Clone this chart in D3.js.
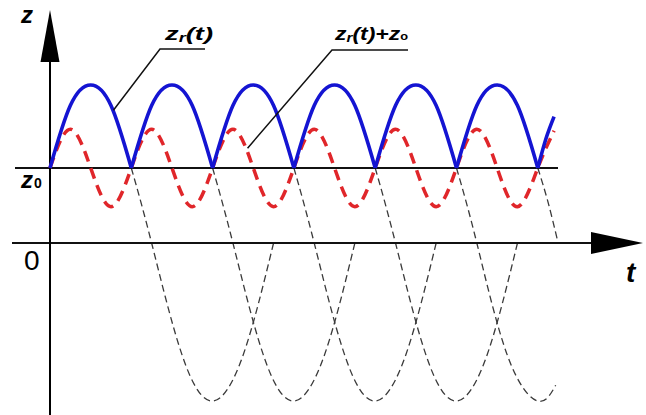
<!DOCTYPE html>
<html>
<head>
<meta charset="utf-8">
<script src="https://cdn.jsdelivr.net/npm/d3@7/dist/d3.min.js"></script>
<style>
  html, body { margin: 0; padding: 0; background: #fff; }
  svg text { font-family: "Liberation Sans", Arial, sans-serif; }
</style>
</head>
<body>
<svg id="chart" width="646" height="415"></svg>
<script>
// level of z0 (in units of the z_r amplitude)
var z0 = 0.475;

// blue z_r(t): the part of each wave above z0, one arch per period
var blueArches = [
  [[0, 0.475], [0.25, 0.87], [0.5, 1], [0.75, 0.87], [1, 0.475]],
  [[1, 0.475], [1.25, 0.87], [1.5, 1], [1.75, 0.87], [2, 0.475]],
  [[2, 0.475], [2.25, 0.87], [2.5, 1], [2.75, 0.87], [3, 0.475]],
  [[3, 0.475], [3.25, 0.87], [3.5, 1], [3.75, 0.87], [4, 0.475]],
  [[4, 0.475], [4.25, 0.87], [4.5, 1], [4.75, 0.87], [5, 0.475]],
  [[5, 0.475], [5.25, 0.87], [5.5, 1], [5.75, 0.87], [6, 0.475]],
  [[6, 0.475], [6.1, 0.66], [6.2, 0.8]]
];

// red dashed z_r(t)+z0
var redT = [0, 0.25, 0.5, 0.75, 1, 1.25, 1.5, 1.75, 2, 2.25, 2.5, 2.75, 3,
            3.25, 3.5, 3.75, 4, 4.25, 4.5, 4.75, 5, 5.25, 5.5, 5.75, 6, 6.2];
var redZ = [0.475, 0.72, 0.475, 0.23, 0.475, 0.72, 0.475, 0.23, 0.475, 0.72, 0.475, 0.23, 0.475,
            0.72, 0.475, 0.23, 0.475, 0.72, 0.475, 0.23, 0.475, 0.72, 0.475, 0.23, 0.475, 0.71];

// thin black dashed continuation of each wave below z0
var dashArcs = [
  [[1, 0.475], [1.25, 0], [1.625, -0.71], [2, -1], [2.375, -0.71], [2.75, 0]],
  [[2, 0.475], [2.25, 0], [2.625, -0.71], [3, -1], [3.375, -0.71], [3.75, 0]],
  [[3, 0.475], [3.25, 0], [3.625, -0.71], [4, -1], [4.375, -0.71], [4.75, 0]],
  [[4, 0.475], [4.25, 0], [4.625, -0.71], [5, -1], [5.375, -0.71], [5.75, 0]],
  [[5, 0.475], [5.25, 0], [5.625, -0.71], [6, -1], [6.22, -0.9]],
  [[6, 0.475], [6.125, 0.26], [6.25, 0]]
];

var svg = d3.select("#chart");

var x = d3.scaleLinear().domain([0, 7]).range([50, 619.1]);
var y = d3.scaleLinear().domain([-1, 1]).range([401, 85]);

var curve = d3.line()
        .x(d => x(d[0]))
        .y(d => y(d[1]))
        .curve(d3.curveNatural);

// black dashed arcs
svg.append("g").selectAll("path")
    .data(dashArcs)
    .enter()
    .append("path")
    .attr("d", curve)
    .attr("fill", "none")
    .attr("stroke", "#3a3a3a")
    .attr("stroke-width", 1.3)
    .attr("stroke-dasharray", "7,4");

// axes
svg.append("line")
    .attr("x1", 12).attr("x2", 595)
    .attr("y1", y(0)).attr("y2", y(0))
    .attr("stroke", "#111").attr("stroke-width", 2);
svg.append("path")
    .attr("d", "M643," + y(0) + "L591," + (y(0) - 11) + "L591," + (y(0) + 11) + "Z")
    .attr("fill", "#000");

svg.append("line")
    .attr("x1", 15).attr("x2", 558)
    .attr("y1", y(z0)).attr("y2", y(z0))
    .attr("stroke", "#111").attr("stroke-width", 2);

svg.append("line")
    .attr("x1", x(0)).attr("x2", x(0))
    .attr("y1", 60).attr("y2", 415)
    .attr("stroke", "#000").attr("stroke-width", 2);
svg.append("path")
    .attr("d", "M" + x(0) + ",10L" + (x(0) - 9.5) + ",62L" + (x(0) + 9.5) + ",62Z")
    .attr("fill", "#000");

// red dashed
var redData = redT.map((t, i) => [t, redZ[i]]);
svg.append("path")
    .datum(redData)
    .attr("d", curve)
    .attr("fill", "none")
    .attr("stroke", "#e0262a")
    .attr("stroke-width", 3.5)
    .attr("stroke-dasharray", "11,7");

// blue arches
svg.append("g").selectAll("path")
    .data(blueArches)
    .enter()
    .append("path")
    .attr("d", curve)
    .attr("fill", "none")
    .attr("stroke", "#1414d2")
    .attr("stroke-width", 3.6)
    .attr("stroke-linejoin", "round");

// leader lines
svg.append("polyline")
    .attr("points", [[205, 49], [160, 49], [x(0.78), y(0.84)]].join(" "))
    .attr("fill", "none").attr("stroke", "#111").attr("stroke-width", 1.5);
svg.append("polyline")
    .attr("points", [[408, 50], [332, 50], [x(2.43), y(0.6)]].join(" "))
    .attr("fill", "none").attr("stroke", "#111").attr("stroke-width", 1.5);

// labels
var lab1 = svg.append("text")
    .attr("x", 165).attr("y", 40)
    .attr("font-size", 18).attr("font-weight", "bold").attr("font-style", "italic")
    .attr("textLength", 48).attr("lengthAdjust", "spacingAndGlyphs");
lab1.append("tspan").text("z");
lab1.append("tspan").attr("font-size", 12).attr("dy", 2).text("r");
lab1.append("tspan").attr("dy", -2).text("(t)");

var lab2 = svg.append("text")
    .attr("x", 335).attr("y", 40)
    .attr("font-size", 18).attr("font-weight", "bold").attr("font-style", "italic")
    .attr("textLength", 73).attr("lengthAdjust", "spacingAndGlyphs");
lab2.append("tspan").text("z");
lab2.append("tspan").attr("font-size", 12).attr("dy", 2).text("r");
lab2.append("tspan").attr("dy", -2).text("(t)+z");
lab2.append("tspan").attr("font-size", 10).attr("font-style", "normal").text("o");

svg.append("text")
    .attr("x", 21).attr("y", 23)
    .attr("font-size", 24).attr("font-weight", "bold").attr("font-style", "italic")
    .text("z");

var z0lab = svg.append("text")
    .attr("x", 21).attr("y", y(z0) + 20)
    .attr("font-size", 24).attr("font-weight", "bold").attr("font-style", "italic");
z0lab.append("tspan").text("z");
z0lab.append("tspan").attr("font-size", 14).attr("font-style", "normal").attr("dx", 1).text("0");

svg.append("text")
    .attr("x", 24).attr("y", y(0) + 27)
    .attr("font-size", 28)
    .text("0");

svg.append("text")
    .attr("x", 626).attr("y", 282)
    .attr("font-size", 28).attr("font-weight", "bold").attr("font-style", "italic")
    .text("t");
</script>
</body>
</html>
